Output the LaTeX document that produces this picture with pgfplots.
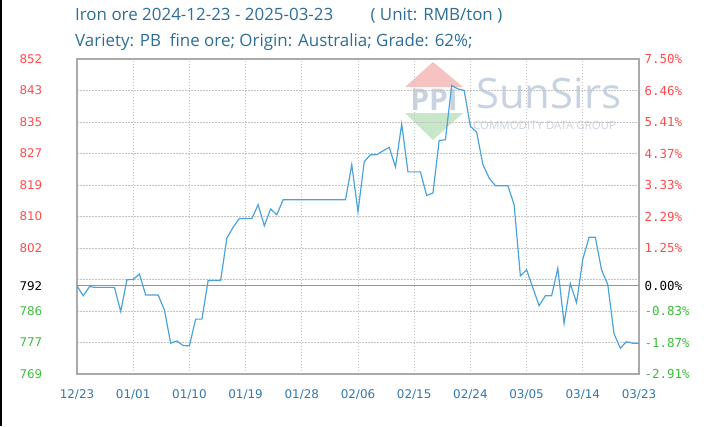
\documentclass[border=0pt]{standalone}
\usepackage{fontspec}
\usepackage{pgfplots}
\pgfplotsset{compat=1.18}
\setmainfont{DejaVu Sans}
\newfontfamily\titlefont{Open Sans}
\newfontfamily\rfont{DejaVu Sans Mono}
\newfontfamily\wmfont{Open Sans}
\definecolor{ttl}{RGB}{45,110,150}
\definecolor{xlab}{RGB}{50,120,170}
\definecolor{upr}{RGB}{255,75,75}
\definecolor{dng}{RGB}{60,190,60}
\definecolor{ln}{RGB}{75,163,218}
\definecolor{grd}{RGB}{195,195,195}
\definecolor{frm}{RGB}{170,170,170}
\definecolor{wmred}{RGB}{246,195,195}
\definecolor{wmgreen}{RGB}{200,230,200}
\definecolor{wmblue}{RGB}{200,211,225}
\pgfplotstableread{
d v
0 792.0
1 789.4
2 791.8
3 791.6
4 791.6
5 791.6
6 791.6
7 785.3
8 793.6
9 793.7
10 795.1
11 789.6
12 789.6
13 789.6
14 785.7
15 777.0
16 777.6
17 776.4
18 776.3
19 783.3
20 783.3
21 793.4
22 793.4
23 793.4
24 804.5
25 807.3
26 809.6
27 809.6
28 809.6
29 813.2
30 807.7
31 812.1
32 810.6
33 814.5
34 814.5
35 814.5
36 814.5
37 814.5
38 814.5
39 814.5
40 814.5
41 814.5
42 814.5
43 814.5
44 823.7
45 811.4
46 824.5
47 826.3
48 826.3
49 827.3
50 828.2
51 823.1
52 834.3
53 821.8
54 821.8
55 821.8
56 815.6
57 816.3
58 830.0
59 830.2
60 844.4
61 843.5
62 843.1
63 833.7
64 832.2
65 823.7
66 820.2
67 818.2
68 818.2
69 818.2
70 813.2
71 794.6
72 796.2
73 791.5
74 786.8
75 789.4
76 789.4
77 796.6
78 782.2
79 792.6
80 787.6
81 799.0
82 804.7
83 804.7
84 796.2
85 792.3
86 779.5
87 775.7
88 777.4
89 777.0
90 777.0
}\prices
\begin{document}
\begin{tikzpicture}[x=1bp,y=1bp]
\path[use as bounding box] (0,0) rectangle (724,426);
\draw[black,line width=1.5bp] (0.75,0)--(0.75,426);
\node[anchor=base west, inner sep=0, text=ttl, font=\titlefont\fontsize{17}{20}\selectfont] at (75,405) {Iron ore 2024-12-23 - 2025-03-23\hspace{2.2em}( Unit: RMB/ton )};
\node[anchor=base west, inner sep=0, text=ttl, font=\titlefont\fontsize{17}{20}\selectfont] at (75,380) {Variety: PB\ \ fine ore; Origin: Australia; Grade: 62\%;};
% watermark
\fill[wmred] (405,339) -- (433,364) -- (463,339) -- cycle;
\fill[wmgreen] (405,313) -- (463,313) -- (433,286) -- cycle;
\node[text=wmblue, font=\wmfont\bfseries\fontsize{30}{30}\selectfont, inner sep=0] at (434,326) {PPI};
\node[anchor=base west, inner sep=0, text=wmblue, font=\wmfont\fontsize{42}{42}\selectfont] at (476,318) {SunSirs};
\node[anchor=west, inner sep=0, text=wmblue, font=\wmfont\fontsize{11.5}{12}\selectfont] at (473,301) {COMMODITY DATA GROUP};
\begin{axis}[at={(77bp,52bp)}, anchor=south west, scale only axis, width=562bp, height=315bp,
  xmin=0, xmax=90, ymin=768.9528, ymax=851.3208,
  xtick={0,9,...,90},
  xticklabels={12/23,01/01,01/10,01/19,01/28,02/06,02/15,02/24,03/05,03/14,03/23},
  ytick={768.9528,777.1896,785.4264,793.6632,801.9,810.1368,818.3736,826.6104,834.8472,843.084,851.3208},
  yticklabels={\textcolor{dng}{769},\textcolor{dng}{777},\textcolor{dng}{786},{},\textcolor{upr}{802},\textcolor{upr}{810},\textcolor{upr}{819},\textcolor{upr}{827},\textcolor{upr}{835},\textcolor{upr}{843},\textcolor{upr}{852}},
  extra y ticks={792}, extra y tick labels={792},
  extra y tick style={grid=major, major grid style={solid, color=gray!85, line width=1bp}},
  grid=major, major grid style={grd, line width=0.9bp, dash pattern=on 1.5bp off 1.5bp},
  major tick length=0,
  axis line style={frm, line width=1.5bp},
  tick label style={font=\fontsize{12}{14}\selectfont},
  xticklabel style={text=xlab, yshift=-12bp},
  yticklabel style={anchor=west, xshift=-61bp},
  clip=false,
]
\addplot[ln, line width=1.2bp] table[x=d, y=v] {\prices};
\end{axis}
\begin{axis}[at={(77bp,52bp)}, anchor=south west, scale only axis, width=562bp, height=315bp,
  xmin=0, xmax=90, ymin=768.9528, ymax=851.3208,
  hide x axis, axis y line*=right, y axis line style={draw=none},
  ytick={768.9528,777.1896,785.4264,793.6632,801.9,810.1368,818.3736,826.6104,834.8472,843.084,851.3208},
  yticklabels={\textcolor{dng}{-2.91\%},\textcolor{dng}{-1.87\%},\textcolor{dng}{-0.83\%},{},\textcolor{upr}{1.25\%},\textcolor{upr}{2.29\%},\textcolor{upr}{3.33\%},\textcolor{upr}{4.37\%},\textcolor{upr}{5.41\%},\textcolor{upr}{6.46\%},\textcolor{upr}{7.50\%}},
  extra y ticks={792}, extra y tick labels={0.00\%},
  major tick length=0,
  tick label style={font=\rfont\fontsize{12.5}{14}\selectfont},
  yticklabel style={anchor=west, xshift=2bp},
]
\addplot[draw=none] coordinates {(0,792)};
\end{axis}
\end{tikzpicture}
\end{document}
